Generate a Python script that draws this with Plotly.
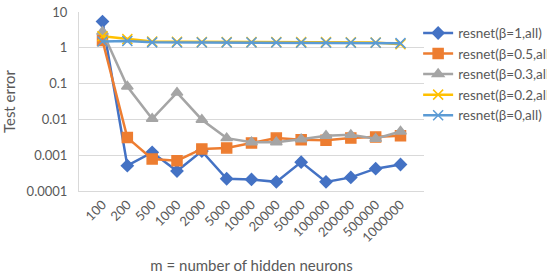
import plotly.graph_objects as go

categories = ["100", "200", "500", "1000", "2000", "5000", "10000", "20000",
              "50000", "100000", "200000", "500000", "1000000"]

beta1 = [5.4, 0.00051, 0.0012, 0.00036, 0.0013, 0.00022, 0.00021, 0.00018,
         0.00064, 0.00018, 0.00024, 0.00042, 0.00055]
beta05 = [1.6, 0.0031, 0.00078, 0.00070, 0.0015, 0.0016, 0.0022, 0.0030,
          0.0027, 0.0026, 0.0030, 0.0032, 0.0035]
beta03 = [2.8, 0.083, 0.0104, 0.056, 0.0098, 0.0030, 0.0023, 0.0023,
          0.0028, 0.0035, 0.0037, 0.0029, 0.0046]
beta02 = [2.1, 1.75, 1.5, 1.47, 1.46, 1.45, 1.45, 1.45, 1.44, 1.44, 1.43, 1.4, 1.26]
beta0 = [1.5, 1.55, 1.42, 1.41, 1.41, 1.40, 1.40, 1.40, 1.39, 1.39, 1.39, 1.38, 1.35]

series_names = ["resnet(β=1,all)", "resnet(β=0.5,all)", "resnet(β=0.3,all)",
                "resnet(β=0.2,all)", "resnet(β=0,all)"]

ytick_vals = [0.0001, 0.001, 0.01, 0.1, 1, 10]
ytick_text = ["0.0001", "0.001", "0.01", "0.1", "1", "10"]

FONT = "Lato, 'Open Sans', sans-serif"
TXT = "#595959"

styles = [
    dict(color="#4472C4", symbol="diamond", size=9),
    dict(color="#ED7D31", symbol="square", size=10),
    dict(color="#A5A5A5", symbol="triangle-up", size=10),
    dict(color="#FFC000", symbol="x-thin-open", size=10),
    dict(color="#5B9BD5", symbol="x-thin-open", size=10),
]
data = [beta1, beta05, beta03, beta02, beta0]

fig = go.Figure()
for name, vals, st in zip(series_names, data, styles):
    fig.add_trace(go.Scatter(
        x=categories, y=vals, name=name, mode="lines+markers",
        line=dict(color=st["color"], width=2.5),
        marker=dict(symbol=st["symbol"], size=st["size"], color=st["color"],
                    line=dict(color=st["color"], width=1.5)),
    ))

fig.update_layout(
    width=547, height=274,
    margin=dict(l=79, r=123, t=12, b=83, autoexpand=False),
    paper_bgcolor="white", plot_bgcolor="white",
    font=dict(family=FONT, size=13, color=TXT),
    showlegend=True,
    legend=dict(x=0.983, y=0.968, xanchor="left", yanchor="top",
                font=dict(family=FONT, size=13.5, color=TXT),
                tracegroupgap=0, itemwidth=30, bgcolor="rgba(0,0,0,0)"),
    xaxis=dict(type="category", tickangle=-45, showgrid=False,
               showline=True, linecolor="#D9D9D9", linewidth=1,
               ticks="", tickfont=dict(size=13, color=TXT),
               title=dict(text="m = number of hidden neurons",
                          font=dict(size=15, color=TXT), standoff=22)),
    yaxis=dict(type="log", range=[-4, 1], tickvals=ytick_vals, ticktext=ytick_text,
               showgrid=True, gridcolor="#D9D9D9", gridwidth=1,
               showline=True, linecolor="#D9D9D9", linewidth=1,
               zeroline=False, ticks="", ticklabelstandoff=8,
               tickfont=dict(size=13, color=TXT),
               title=dict(text="Test error", font=dict(size=15, color=TXT), standoff=7)),
)

# remove the browser's default body margin so the figure sits at the page origin
fig.write_html("out.html", config={"displayModeBar": False},
               post_script="document.body.style.margin='0';")
